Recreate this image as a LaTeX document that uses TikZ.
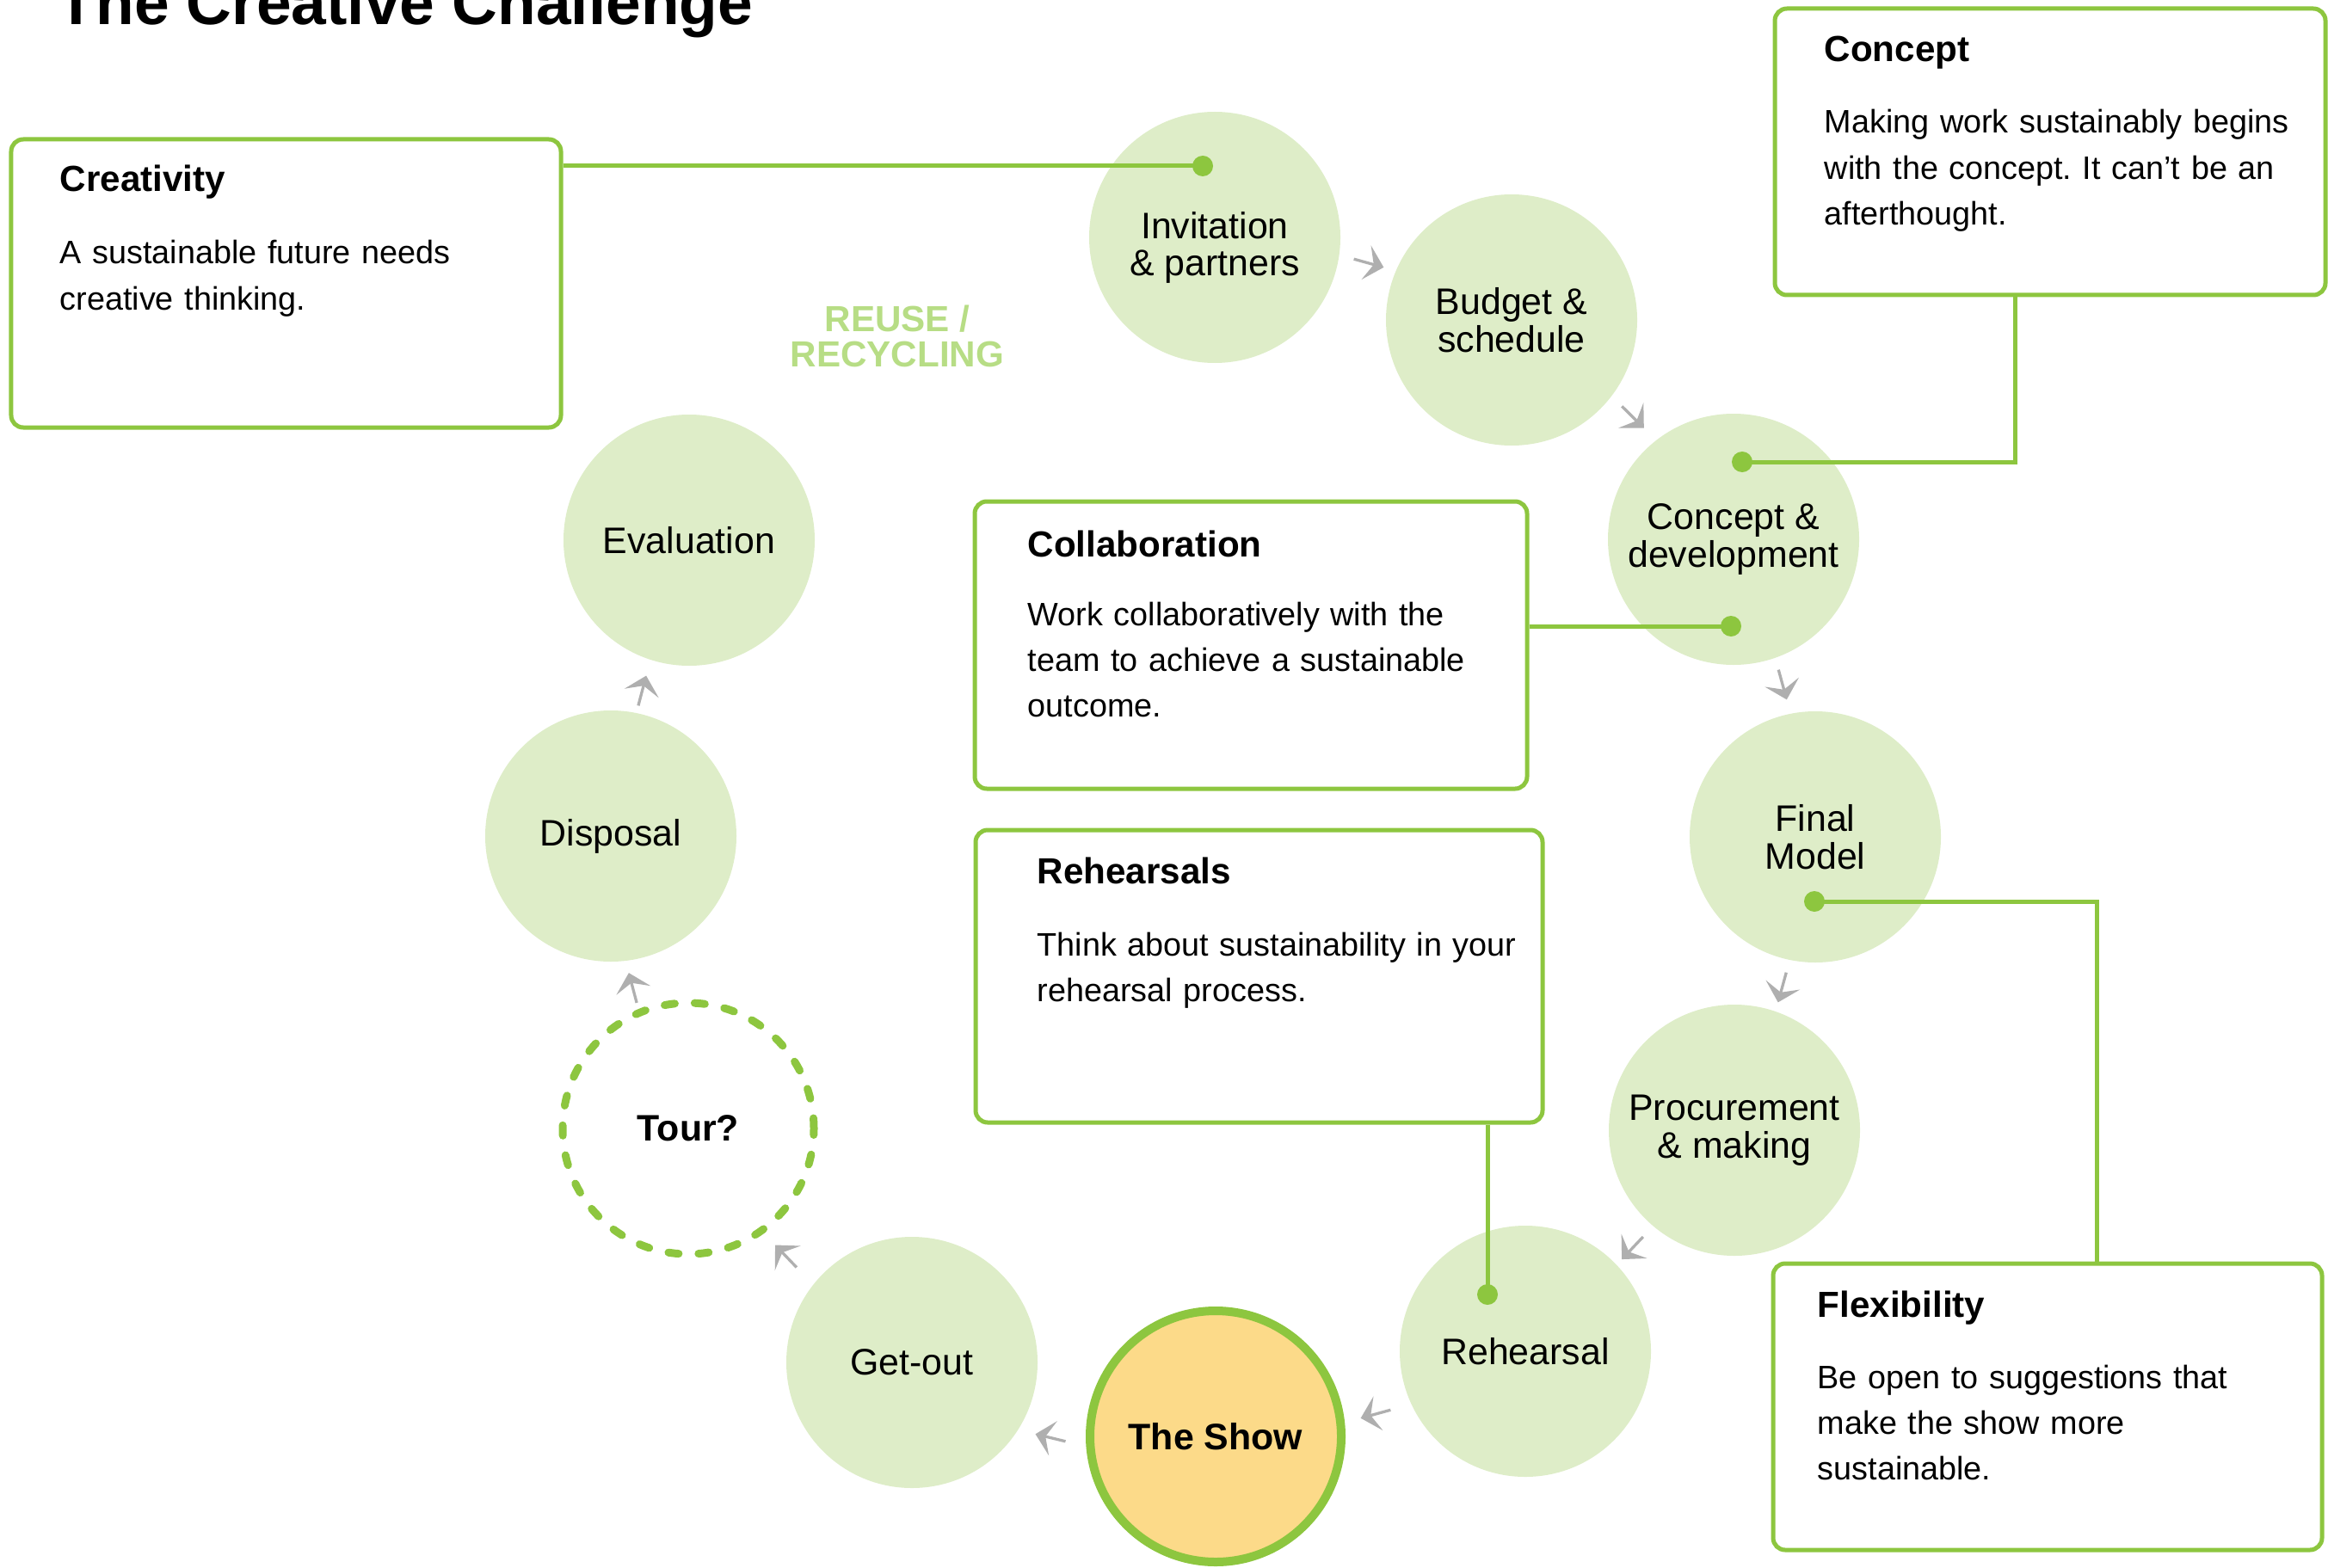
\documentclass[tikz,border=0pt]{standalone}
\usepackage{fontspec}
\setmainfont{Liberation Sans}
\frenchspacing
\usetikzlibrary{arrows.meta, positioning, calc}

\begin{document}
\begin{tikzpicture}[
    stage/.style={circle, fill=stagecolor, minimum size=2.92cm, inner sep=0pt, align=center, font=\fontsize{12.2}{12.4}\selectfont},
    panel/.style={rectangle, rounded corners=0.14cm, draw=leafgreen, line width=0.05cm, fill=white},
    panelhead/.style={anchor=base west, inner sep=0pt, font=\fontsize{12}{14}\selectfont\bfseries},
    paneltext/.style={anchor=base west, inner sep=0pt, text width=6.2cm, align=left, font=\fontsize{10.75}{15.1}\selectfont},
    link/.style={draw=leafgreen, line width=0.05cm},
    linkdot/.style={fill=leafgreen},
    flow/.style={-{Stealth[length=0.21cm, width=0.41cm, inset=0.09cm]}, line width=0.033cm, draw=arrowgray}
]

% Colours of the cycle
\definecolor{leafgreen}{RGB}{141, 198, 63}
\definecolor{stagecolor}{RGB}{222, 237, 200}
\definecolor{showcolor}{RGB}{252, 218, 137}
\definecolor{reusecolor}{RGB}{183, 221, 133}
\definecolor{arrowgray}{RGB}{175, 175, 175}

\useasboundingbox (0,0) rectangle (27.06,-18.22);
\clip (0,0) rectangle (27.06,-18.22);

% Title (cut by the top edge)
\node[anchor=base west, inner sep=0pt, font=\fontsize{20.8}{21}\selectfont\bfseries] (title) at (0.66,-0.29) {The Creative Challenge};

% Stages of the cycle
\node[stage] (inv) at (14.12,-2.76) {\raisebox{-0.14cm}[\height][\depth]{\begin{tabular}{c}Invitation\\\& partners\end{tabular}}};
\node[stage] (budget) at (17.57,-3.72) {Budget \&\\schedule};
\node[stage] (concept) at (20.15,-6.27) {Concept \&\\development};
\node[stage] (final) at (21.10,-9.73) {Final\\Model};
\node[stage] (procure) at (20.16,-13.14) {Procurement\\\& making};
\node[stage] (rehearsal) at (17.73,-15.71) {Rehearsal};
\node[stage, fill=showcolor, draw=leafgreen, line width=0.1cm, font=\fontsize{12.2}{12.4}\selectfont\bfseries] (show) at (14.13,-16.70) {The Show};
\node[stage] (getout) at (10.60,-15.84) {Get-out};
\node[stage, fill=none, draw=leafgreen, line width=0.09cm, dash pattern=on 0.12cm off 0.23cm, line cap=round, font=\fontsize{12.2}{12.4}\selectfont\bfseries] (tour) at (8.00,-13.12) {Tour?};
\node[stage] (disposal) at (7.10,-9.72) {Disposal};
\node[stage] (evaluation) at (8.01,-6.28) {Evaluation};

% Reuse label in the gap of the cycle
\node[inner sep=0pt, align=center, text=reusecolor, font=\fontsize{12}{11.7}\selectfont\bfseries] (reuse) at (10.43,-3.91) {REUSE /\\RECYCLING};

% Creativity box
\node[panel, minimum width=6.39cm, minimum height=3.35cm] (creativity) at (3.325,-3.295) {};
\node[panelhead] (creahead) at (0.69,-2.23) {Creativity};
\node[paneltext] (creatext) at (0.69,-3.07) {A sustainable future needs\\creative thinking.};

% Concept box
\node[panel, minimum width=6.40cm, minimum height=3.33cm] (conceptbox) at (23.83,-1.765) {};
\node[panelhead] (conchead) at (21.20,-0.72) {Concept};
\node[paneltext] (conctext) at (21.20,-1.55) {Making work sustainably begins\\with the concept. It can’t be an\\afterthought.};

% Collaboration box
\node[panel, minimum width=6.42cm, minimum height=3.34cm] (collab) at (14.54,-7.50) {};
\node[panelhead] (collhead) at (11.94,-6.47) {Collaboration};
\node[paneltext] (colltext) at (11.94,-7.27) {Work collaboratively with the\\team to achieve a sustainable\\outcome.};

% Rehearsals box
\node[panel, minimum width=6.59cm, minimum height=3.40cm] (rehbox) at (14.635,-11.35) {};
\node[panelhead] (rehhead) at (12.05,-10.27) {Rehearsals};
\node[paneltext] (rehtext) at (12.05,-11.11) {Think about sustainability in your\\rehearsal process.};

% Flexibility box
\node[panel, minimum width=6.38cm, minimum height=3.33cm] (flexbox) at (23.80,-16.355) {};
\node[panelhead] (flexhead) at (21.12,-15.31) {Flexibility};
\node[paneltext] (flextext) at (21.12,-16.14) {Be open to suggestions that\\make the show more\\sustainable.};

% Ends of the links inside the stages
\coordinate (creadot) at (13.98,-1.93);
\coordinate (conceptdot) at (20.25,-5.37);
\coordinate (conceptbend) at (23.42,-5.37);
\coordinate (collabdot) at (20.12,-7.28);
\coordinate (flexdot) at (21.09,-10.48);
\coordinate (flexbend) at (24.37,-10.48);
\coordinate (rehdot) at (17.29,-15.05);

% Links from boxes to stages
\draw[link] (creadot -| creativity.east) -- (creadot);
\draw[link] (conceptbend |- conceptbox.south) -- (conceptbend) -- (conceptdot);
\draw[link] (collabdot -| collab.east) -- (collabdot);
\draw[link] (flexbend |- flexbox.north) -- (flexbend) -- (flexdot);
\draw[link] (rehdot |- rehbox.south) -- (rehdot);

\fill[linkdot] (creadot) circle (0.12);
\fill[linkdot] (conceptdot) circle (0.12);
\fill[linkdot] (collabdot) circle (0.12);
\fill[linkdot] (flexdot) circle (0.12);
\fill[linkdot] (rehdot) circle (0.12);

% Arrows round the cycle
\draw[flow] ($(inv)!.5!(budget)!-.18cm!(budget)+(0.065,0.18)$) -- ($(inv)!.5!(budget)!.18cm!(budget)+(0.065,0.18)$);
\draw[flow] ($(budget)!.5!(concept)!-.18cm!(concept)+(0.12,0.145)$) -- ($(budget)!.5!(concept)!.18cm!(concept)+(0.12,0.145)$);
\draw[flow] ($(concept)!.5!(final)!-.18cm!(final)+(0.095,0.04)$) -- ($(concept)!.5!(final)!.18cm!(final)+(0.095,0.04)$);
\draw[flow] ($(final)!.5!(procure)!-.18cm!(procure)+(0.085,-0.045)$) -- ($(final)!.5!(procure)!.18cm!(procure)+(0.085,-0.045)$);
\draw[flow] ($(procure)!.5!(rehearsal)!-.18cm!(rehearsal)+(0.03,-0.085)$) -- ($(procure)!.5!(rehearsal)!.18cm!(rehearsal)+(0.03,-0.085)$);
\draw[flow] ($(rehearsal)!.5!(show)!-.18cm!(show)+(0.06,-0.235)$) -- ($(rehearsal)!.5!(show)!.18cm!(show)+(0.06,-0.235)$);
\draw[flow] ($(show)!.5!(getout)!-.18cm!(getout)+(-0.155,-0.445)$) -- ($(show)!.5!(getout)!.18cm!(getout)+(-0.155,-0.445)$);
\draw[flow] ($(getout)!.5!(tour)!-.18cm!(tour)+(-0.165,-0.125)$) -- ($(getout)!.5!(tour)!.18cm!(tour)+(-0.165,-0.125)$);
\draw[flow] ($(tour)!.5!(disposal)!-.18cm!(disposal)+(-0.195,-0.065)$) -- ($(tour)!.5!(disposal)!.18cm!(disposal)+(-0.195,-0.065)$);
\draw[flow] ($(disposal)!.5!(evaluation)!-.18cm!(evaluation)+(-0.09,-0.03)$) -- ($(disposal)!.5!(evaluation)!.18cm!(evaluation)+(-0.09,-0.03)$);

\end{tikzpicture}
\end{document}
